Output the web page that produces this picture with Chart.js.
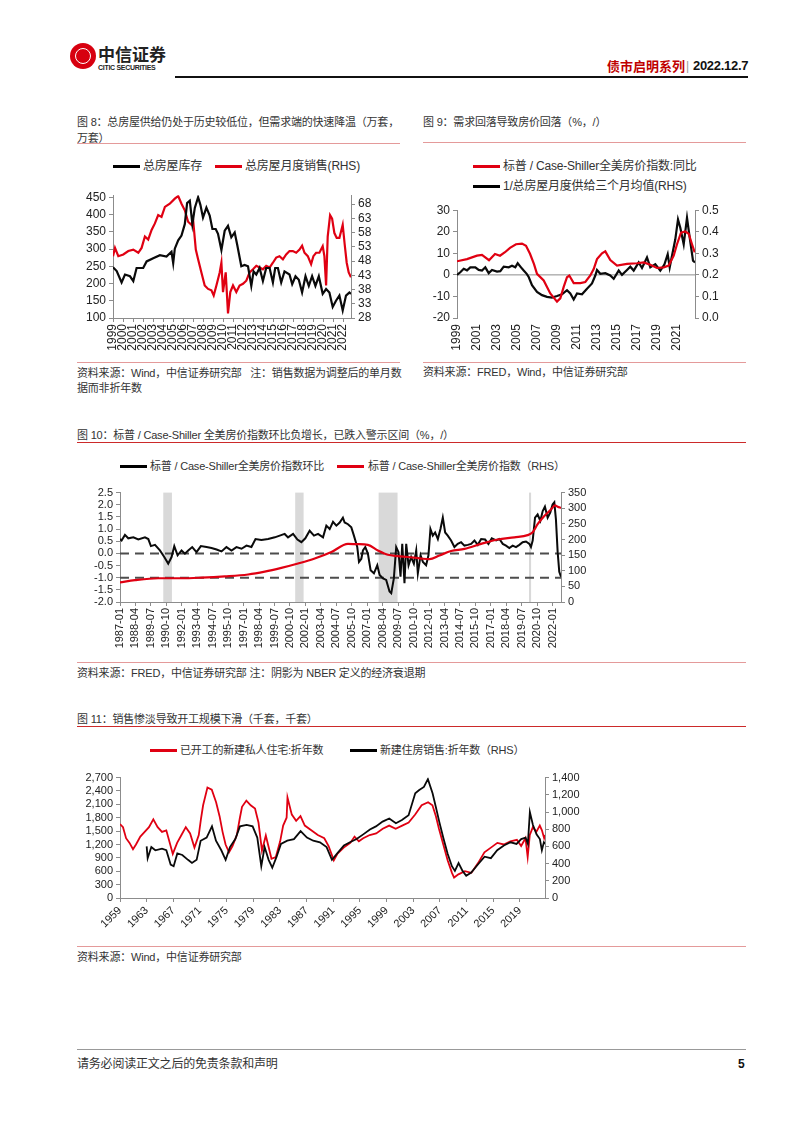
<!DOCTYPE html>
<html>
<head>
<meta charset="utf-8">
<script src="https://cdn.jsdelivr.net/npm/chart.js@4.4.0/dist/chart.umd.min.js"></script>
<style>
body{margin:0;background:#fff;width:802px;height:1133px;position:relative;overflow:hidden;font-family:"Liberation Sans","Noto Sans CJK SC",sans-serif;color:#333;}
.t{position:absolute;white-space:nowrap;line-height:16px;font-size:11px;letter-spacing:-0.2px;}
.ln{position:absolute;height:1px;}
.lg{position:absolute;height:3px;width:27px;}
canvas{position:absolute;}
</style>
</head>
<body>

<!-- header -->
<div style="position:absolute;left:70px;top:43px;width:26px;height:26px;border-radius:50%;background:#d7000f;"></div>
<div style="position:absolute;left:75px;top:48px;width:14px;height:14px;border-radius:50%;border:1px solid #fff;"></div>
<div class="t" style="left:98px;top:44px;font-size:17px;line-height:20px;font-weight:bold;color:#222;font-family:'Noto Sans CJK SC';letter-spacing:0;">中信证券</div>
<div class="t" style="left:98px;top:63px;font-size:7px;line-height:9px;font-weight:bold;color:#222;letter-spacing:-0.3px;">CITIC SECURITIES</div>
<div class="t" style="left:607px;top:58px;font-size:13px;font-weight:bold;color:#c00000;font-family:'Noto Sans CJK SC';letter-spacing:0;">债市启明系列</div>
<div class="t" style="left:686px;top:58px;font-size:12px;color:#999;">|</div>
<div class="t" style="left:693px;top:58px;font-size:13px;font-weight:bold;color:#111;letter-spacing:-0.3px;">2022.12.7</div>
<div class="ln" style="left:175px;top:76px;width:573px;height:2px;background:#111;"></div>

<!-- figure 8 -->
<div class="t" style="left:77px;top:114px;">图 8：总房屋供给仍处于历史较低位，但需求端的快速降温（万套，</div>
<div class="t" style="left:77px;top:130px;">万套）</div>
<div class="ln" style="left:77px;top:143px;width:323px;background:#e49a9a;"></div>
<div class="lg" style="left:113px;top:165px;background:#000;"></div>
<div class="t" style="left:143px;top:158px;font-size:12px;">总房屋库存</div>
<div class="lg" style="left:215px;top:165px;background:#e00012;"></div>
<div class="t" style="left:245px;top:158px;font-size:12px;">总房屋月度销售(RHS)</div>
<canvas id="c8" width="305" height="170" style="left:75px;top:185px;"></canvas>
<div class="ln" style="left:77px;top:362px;width:323px;background:#e49a9a;"></div>
<div class="t" style="left:77px;top:365px;">资料来源：Wind，中信证券研究部&nbsp;&nbsp;&nbsp;注：销售数据为调整后的单月数</div>
<div class="t" style="left:77px;top:380px;">据而非折年数</div>

<!-- figure 9 -->
<div class="t" style="left:423px;top:114px;">图 9：需求回落导致房价回落（%，/）</div>
<div class="ln" style="left:423px;top:142px;width:323px;background:#e49a9a;"></div>
<div class="lg" style="left:473px;top:165px;background:#e00012;"></div>
<div class="t" style="left:503px;top:158px;font-size:12px;">标普 / Case-Shiller全美房价指数:同比</div>
<div class="lg" style="left:473px;top:185px;background:#000;"></div>
<div class="t" style="left:503px;top:178px;font-size:12px;">1/总房屋月度供给三个月均值(RHS)</div>
<canvas id="c9" width="305" height="160" style="left:420px;top:200px;"></canvas>
<div class="ln" style="left:423px;top:362px;width:323px;background:#e49a9a;"></div>
<div class="t" style="left:423px;top:364px;">资料来源：FRED，Wind，中信证券研究部</div>

<!-- figure 10 -->
<div class="t" style="left:77px;top:427px;">图 10：标普 / Case-Shiller 全美房价指数环比负增长，已跌入警示区间（%，/）</div>
<div class="ln" style="left:77px;top:442px;width:669px;background:#cc2a2a;"></div>
<div class="lg" style="left:120px;top:465px;background:#000;"></div>
<div class="t" style="left:150px;top:458px;">标普 / Case-Shiller全美房价指数环比</div>
<div class="lg" style="left:337px;top:465px;background:#e00012;"></div>
<div class="t" style="left:368px;top:458px;">标普 / Case-Shiller全美房价指数（RHS）</div>
<canvas id="c10" width="506" height="175" style="left:85px;top:483px;"></canvas>
<div class="ln" style="left:77px;top:662px;width:669px;background:#e49a9a;"></div>
<div class="t" style="left:77px;top:665px;">资料来源：FRED，中信证券研究部 注：阴影为 NBER 定义的经济衰退期</div>

<!-- figure 11 -->
<div class="t" style="left:77px;top:711px;">图 11：销售惨淡导致开工规模下滑（千套，千套）</div>
<div class="ln" style="left:77px;top:726px;width:669px;background:#cc2a2a;"></div>
<div class="lg" style="left:150px;top:749px;background:#e00012;"></div>
<div class="t" style="left:180px;top:742px;">已开工的新建私人住宅:折年数</div>
<div class="lg" style="left:350px;top:749px;background:#000;"></div>
<div class="t" style="left:380px;top:742px;">新建住房销售:折年数（RHS）</div>
<canvas id="c11" width="510" height="170" style="left:78px;top:768px;"></canvas>
<div class="ln" style="left:77px;top:946px;width:669px;background:#e49a9a;"></div>
<div class="t" style="left:77px;top:949px;">资料来源：Wind，中信证券研究部</div>

<!-- footer -->
<div class="ln" style="left:77px;top:1049px;width:669px;background:#999;"></div>
<div class="t" style="left:77px;top:1056px;font-size:12px;">请务必阅读正文之后的免责条款和声明</div>
<div class="t" style="left:738px;top:1056px;font-size:12px;font-weight:bold;color:#111;">5</div>

<script>
// ---- figure 8: inventory (LHS, 万套) and monthly sales (RHS) ----
const invYears = [1999.0,1999.37,1999.86,2000.2,2000.7,2001.03,2001.36,2002.02,2002.36,2003.02,2003.69,2004.35,2004.85,2005.02,2005.18,2005.52,2005.85,2006.18,2006.41,2006.68,2006.94,2007.18,2007.51,2007.74,2008.0,2008.34,2008.67,2008.94,2009.27,2009.5,2009.84,2010.17,2010.5,2010.83,2011.17,2011.43,2011.83,2012.16,2012.5,2012.83,2013.06,2013.33,2013.66,2013.99,2014.32,2014.66,2014.99,2015.22,2015.49,2015.82,2016.15,2016.65,2016.92,2017.25,2017.58,2017.91,2018.25,2018.58,2018.91,2019.24,2019.58,2019.97,2020.31,2020.64,2020.97,2021.3,2021.64,2021.97,2022.3,2022.64,2022.8];
const invValues = [247,236,203,226,221,207,245,245,264,273,282,278,292,259,301,325,339,372,433,440,372,419,450,428,391,420,397,358,358,344,297,353,367,334,348,311,250,254,250,193,235,226,245,207,245,245,203,245,245,203,235,226,198,221,211,174,221,193,221,193,221,170,184,174,132,150,165,122,165,174,170];
const salesYears = [1999.0,1999.2,1999.53,2000.03,2000.53,2001.03,2001.53,2001.86,2002.19,2002.52,2002.86,2003.19,2003.52,2003.85,2004.19,2004.68,2005.18,2005.52,2005.85,2006.18,2006.51,2006.84,2007.01,2007.28,2007.51,2007.84,2008.17,2008.51,2008.84,2009.07,2009.34,2009.67,2009.84,2010.0,2010.27,2010.5,2010.73,2011.0,2011.33,2011.66,2012.0,2012.33,2012.66,2013.0,2013.33,2013.66,2013.99,2014.32,2014.66,2014.99,2015.32,2015.65,2015.99,2016.32,2016.65,2016.98,2017.32,2017.65,2017.91,2018.15,2018.48,2018.81,2019.04,2019.31,2019.64,2019.97,2020.14,2020.31,2020.47,2020.71,2020.91,2021.14,2021.37,2021.64,2021.97,2022.17,2022.37,2022.57,2022.8];
const salesValues = [49.7,52.6,49.7,50.3,51.5,52,50.9,52.6,56.6,55.5,58.9,61.2,64.1,63.5,67,68.1,69.9,70.8,68.1,65.8,61.8,60.7,62.4,52,48.6,44,39.4,38.2,37.7,35.9,39.4,44,47.4,37.1,44,29.6,37.1,39.4,37.1,39.4,40,41.1,44,45.1,46.3,45.7,45.1,46.3,45.7,47.4,49.2,49.7,48.6,50.3,51.5,51.5,50.9,52,53.4,50.9,49.7,46.9,49.7,50.9,50.9,53.2,49.7,39.4,56.6,64.1,62.9,57.8,56.1,56.1,60.7,53.8,47.4,44,42.3];
const fig8LeftTicks = [100,150,200,250,300,350,400,450];
const fig8RightTicks = [28,33,38,43,48,53,58,63,68];
const fig8YearTicks = [1999,2000,2001,2002,2003,2004,2005,2006,2007,2008,2009,2010,2011,2012,2013,2014,2015,2016,2017,2018,2019,2020,2021,2022];

// ---- figure 9: Case-Shiller YoY (LHS) and 1/supply 3m avg (RHS) ----
const yoyYears = [1999.0,2000.0,2001.0,2001.5,2002.2,2002.8,2003.3,2003.8,2004.3,2004.9,2005.5,2005.9,2006.3,2006.7,2007.0,2007.67,2008.33,2009.0,2009.33,2009.67,2010.0,2010.23,2010.67,2011.33,2011.83,2012.33,2012.67,2013.0,2013.5,2013.83,2014.33,2015.0,2016.0,2017.0,2017.67,2018.33,2019.0,2019.67,2020.17,2020.67,2021.0,2021.4,2021.83,2022.17,2022.5,2022.77];
const yoyValues = [6.3,7.3,8.9,9.3,6.8,9.7,8.9,10.5,12.5,14.2,14.5,13.5,9.8,5.0,0.5,-2.6,-8.6,-12.4,-10.9,-5.6,-1.1,-0.3,-3.8,-3.8,-3.3,-0.3,2.7,7.3,10.0,10.9,6.9,4.3,5.1,5.4,5.8,4.7,3.2,3.5,4.3,8.9,14.2,19.6,20.1,19.1,14.2,10.4];
const supplyYears = [1999.0,1999.33,1999.67,2000.0,2000.33,2000.83,2001.17,2001.5,2001.83,2002.17,2002.5,2003.0,2003.33,2003.67,2004.17,2004.5,2004.83,2005.07,2005.4,2005.67,2005.97,2006.17,2006.5,2007.0,2007.5,2008.0,2008.5,2009.0,2009.5,2010.0,2010.33,2010.67,2011.0,2011.5,2012.0,2012.5,2012.83,2013.0,2013.33,2013.83,2014.33,2014.67,2015.17,2015.5,2016.0,2016.33,2016.67,2017.17,2017.5,2018.0,2018.33,2018.83,2019.33,2019.73,2020.07,2020.27,2020.83,2021.1,2021.33,2021.67,2022.0,2022.27,2022.6,2022.8];
const supplyValues = [0.200,0.212,0.228,0.221,0.235,0.235,0.223,0.220,0.235,0.208,0.223,0.215,0.217,0.238,0.235,0.242,0.235,0.254,0.235,0.220,0.205,0.190,0.152,0.121,0.106,0.098,0.095,0.102,0.110,0.129,0.114,0.086,0.114,0.110,0.136,0.160,0.197,0.223,0.205,0.208,0.197,0.182,0.220,0.200,0.223,0.238,0.220,0.258,0.232,0.281,0.235,0.250,0.220,0.247,0.296,0.235,0.365,0.457,0.419,0.342,0.465,0.373,0.266,0.258];
const fig9LeftTicks = [-20,-10,0,10,20,30];
const fig9RightTicks = [0,0.1,0.2,0.3,0.4,0.5];
const fig9YearTicks = [1999,2001,2003,2005,2007,2009,2011,2013,2015,2017,2019,2021];

// ---- figure 10: Case-Shiller MoM (LHS, %) and index level (RHS) ----
const momYears = [1987.0,1987.13,1987.4,1987.67,1988.08,1988.48,1989.02,1989.29,1989.5,1989.83,1990.23,1990.58,1990.9,1991.17,1991.39,1991.66,1991.98,1992.25,1992.52,1992.84,1993.19,1993.54,1994.0,1994.4,1994.81,1995.21,1995.61,1996.02,1996.42,1996.83,1997.23,1997.63,1997.96,1998.44,1998.98,1999.52,1999.92,2000.32,2000.59,2001.0,2001.35,2001.67,2001.99,2002.34,2002.69,2003.02,2003.42,2003.69,2003.96,2004.23,2004.5,2004.77,2005.03,2005.17,2005.44,2005.71,2005.92,2006.19,2006.33,2006.52,2006.65,2006.84,2007.05,2007.27,2007.54,2007.81,2008.0,2008.27,2008.53,2008.8,2008.94,2009.15,2009.34,2009.53,2009.69,2009.83,2010.01,2010.15,2010.34,2010.55,2010.77,2010.96,2011.09,2011.31,2011.5,2011.76,2011.95,2012.11,2012.3,2012.49,2012.71,2012.92,2013.11,2013.3,2013.51,2013.78,2014.05,2014.32,2014.59,2014.86,2015.13,2015.4,2015.67,2015.94,2016.21,2016.53,2016.8,2017.07,2017.42,2017.69,2017.96,2018.22,2018.49,2018.76,2019.03,2019.3,2019.57,2019.84,2020.11,2020.24,2020.38,2020.57,2020.78,2021.0,2021.19,2021.37,2021.59,2021.8,2021.99,2022.13,2022.26,2022.4,2022.53,2022.67];
const momValues = [0.59,0.53,0.76,0.62,0.66,0.57,0.66,0.59,0.30,0.35,0.12,-0.15,-0.42,-0.15,0.30,-0.08,0.12,-0.01,0.12,0.26,0.05,0.30,0.26,0.22,0.16,0.08,0.26,0.12,0.26,0.19,0.32,0.26,0.59,0.55,0.59,0.66,0.73,0.80,0.66,0.80,0.57,0.46,0.62,0.93,0.73,0.80,0.66,1.14,1.00,1.30,1.14,1.27,1.47,1.27,1.20,1.07,0.73,0.26,-0.35,-0.22,0.12,0.26,-0.01,-0.69,-0.82,-0.49,-0.89,-1.03,-1.09,-1.57,-1.64,-1.03,0.26,0.05,-0.96,0.39,-1.23,0.39,-0.49,-0.15,-0.42,0.12,-0.82,-0.08,-0.35,-0.49,-0.08,1.00,0.73,0.86,0.59,1.00,1.47,0.86,0.73,0.53,0.26,0.39,0.46,0.32,0.35,0.39,0.53,0.35,0.59,0.57,0.39,0.62,0.53,0.59,0.39,0.32,0.22,0.32,0.26,0.35,0.46,0.49,0.39,0.26,0.53,1.47,1.60,1.34,1.74,1.92,1.47,1.68,2.01,2.10,1.40,0.05,-0.76,-0.96];
const hpiYears = [1987.0,1988.21,1990.09,1991.98,1993.6,1995.48,1997.36,1998.71,2000.05,2001.4,2002.75,2004.1,2005.44,2006.19,2007.05,2007.86,2008.67,2009.48,2010.28,2011.36,2012.03,2012.84,2013.78,2014.86,2016.21,2017.55,2018.9,2019.97,2020.38,2020.78,2021.32,2021.86,2022.18,2022.4,2022.67];
const hpiValues = [63,70,76,76,78,82,88,97,109,123,139,160,186,185,183,165,151,147,144,139,137,149,163,170,186,200,207,214,223,249,275,296,309,305,301];
const recessionStart = [1990.5,2001.17,2007.92,2020.08];
const recessionEnd = [1991.2,2001.85,2009.45,2020.25];
const warnLevels = [0,-1];
const fig10LeftTicks = [-2,-1.5,-1,-0.5,0,0.5,1,1.5,2,2.5];
const fig10RightTicks = [0,50,100,150,200,250,300,350];
const fig10DateTicks = [1987,1988.25,1989.5,1990.75,1992,1993.25,1994.5,1995.75,1997,1998.25,1999.5,2000.75,2002,2003.25,2004.5,2005.75,2007,2008.25,2009.5,2010.75,2012,2013.25,2014.5,2015.75,2017,2018.25,2019.5,2020.75,2022];

// ---- figure 11: housing starts (LHS) and new home sales (RHS), 千套 ----
const startsYears = [1959.0,1959.45,1959.91,1960.43,1960.95,1961.4,1962.05,1962.7,1963.35,1964.0,1964.65,1965.3,1965.95,1966.4,1966.92,1967.57,1968.22,1968.87,1969.52,1970.17,1970.82,1971.14,1971.47,1972.12,1972.77,1973.42,1973.94,1974.39,1974.84,1975.36,1975.88,1976.53,1976.99,1977.31,1977.96,1978.61,1979.26,1979.78,1980.3,1980.88,1981.73,1982.38,1983.03,1983.48,1984.0,1984.13,1984.78,1985.43,1986.08,1986.73,1987.7,1988.68,1989.65,1990.3,1991.08,1991.6,1992.57,1993.55,1994.19,1994.84,1995.49,1996.47,1997.44,1998.42,1999.39,2000.36,2001.34,2002.31,2003.29,2004.26,2005.23,2005.88,2006.4,2006.86,2007.51,2008.16,2008.81,2009.13,2009.78,2010.75,2011.73,2012.7,2013.68,2014.65,2015.62,2016.6,2017.57,2018.55,2019.19,2019.84,2020.17,2020.49,2020.95,2021.47,2021.99,2022.31,2022.64,2022.77];
const startsValues = [1659,1589,1341,1236,1094,1200,1377,1483,1589,1765,1589,1483,1518,1271,988,1236,1412,1589,1447,1130,1412,1765,2079,2477,2428,2149,1835,1483,1200,1024,1165,1412,1800,2044,2184,2079,2009,1694,1060,1400,880,920,1271,1624,1800,2254,1870,1730,1836,1624,1518,1412,1341,1165,847,988,1130,1236,1377,1271,1341,1412,1447,1553,1624,1553,1624,1694,1871,2079,2149,2079,1835,1553,1200,847,565,459,530,600,565,777,1024,1130,1236,1200,1271,1306,1165,1341,918,1412,1589,1483,1624,1518,1341,1412];
const newSalesYears = [1963.0,1963.15,1963.7,1964.3,1965.3,1965.95,1966.6,1967.05,1967.6,1968.35,1969.2,1969.8,1970.5,1971.1,1972.0,1972.8,1973.4,1974.2,1974.85,1975.5,1976.3,1977.0,1978.0,1978.9,1979.6,1980.2,1980.7,1981.3,1981.85,1982.5,1983.15,1984.1,1985.1,1986.1,1987.05,1988.0,1989.0,1990.0,1990.8,1991.6,1992.6,1993.5,1994.5,1995.5,1996.5,1997.4,1998.4,1999.4,2000.4,2001.3,2002.3,2003.3,2003.9,2004.6,2005.2,2005.9,2006.4,2006.9,2007.5,2008.15,2008.8,2009.25,2009.8,2010.4,2010.95,2011.7,2012.7,2013.7,2014.65,2015.6,2016.6,2017.6,2018.5,2019.2,2019.85,2020.2,2020.5,2020.95,2021.5,2022.0,2022.3,2022.6,2022.77];
const newSalesValues = [600,463,592,555,574,555,389,370,518,500,444,407,444,666,703,833,666,555,444,592,685,833,851,833,703,370,592,444,352,481,629,666,685,777,703,666,648,592,444,518,611,648,685,740,796,833,888,925,870,907,962,1218,1255,1291,1382,1218,1055,888,703,518,370,315,407,315,259,296,389,481,463,555,611,648,629,685,703,629,999,851,740,685,555,648,629];
const fig11LeftTicks = [0,300,600,900,1200,1500,1800,2100,2400,2700];
const fig11RightTicks = [0,200,400,600,800,1000,1200,1400];
const fig11YearTicks = [1959,1963,1967,1971,1975,1979,1983,1987,1991,1995,1999,2003,2007,2011,2015,2019];

const RED = '#e00012';
const BLACK = '#0a0a0a';
const AXIS = '#8c8c8c';
const NUM_FONT = "'Liberation Sans', Arial, sans-serif";
const NARROW_FONT = "'Liberation Sans Narrow', 'Arial Narrow', 'Liberation Sans', Arial, sans-serif";

Chart.defaults.animation = false;
Chart.defaults.color = '#222';

/**
 * zip two arrays into {x, y} points
 */
function toPoints(xs, ys) {
    return xs.map((x, i) => ({ x: x, y: ys[i] }));
}

/**
 * a line dataset without point markers
 */
function lineSet(xs, ys, color, axis, width) {
    return {
        data: toPoints(xs, ys),
        yAxisID: axis,
        borderColor: color,
        borderWidth: width || 2,
        pointRadius: 0,
        tension: 0,
        fill: false
    };
}

/**
 * value axis with fixed ticks and fixed width
 */
function valueAxis(position, min, max, tickList, fmt, width, font) {
    return {
        type: 'linear',
        position: position,
        min: min,
        max: max,
        afterBuildTicks: (scale) => { scale.ticks = tickList.map(v => ({ value: v })); },
        afterFit: (scale) => { scale.width = width; },
        border: { color: AXIS, width: 1 },
        grid: { drawOnChartArea: false, drawTicks: true, tickLength: 4, color: AXIS },
        ticks: { callback: fmt, font: font, padding: 3, color: '#222', autoSkip: false }
    };
}

/**
 * time axis in decimal years
 */
function yearAxis(min, max, tickList, fmt, height, rotation, font, showBorder) {
    return {
        type: 'linear',
        min: min,
        max: max,
        afterBuildTicks: (scale) => { scale.ticks = tickList.map(v => ({ value: v })); },
        afterFit: (scale) => { scale.height = height; },
        border: { display: showBorder, color: AXIS, width: 1 },
        grid: { display: showBorder, drawOnChartArea: false, tickLength: 4, color: AXIS },
        ticks: { callback: fmt, autoSkip: false, minRotation: rotation, maxRotation: rotation, font: font, padding: 2, color: '#222' }
    };
}

function baseOptions(paddingTop, scales) {
    return {
        responsive: false,
        devicePixelRatio: 1,
        layout: { padding: { top: paddingTop, left: 0, right: 0, bottom: 0 } },
        plugins: { legend: { display: false }, tooltip: { enabled: false } },
        scales: scales
    };
}

// shaded NBER recessions behind the lines
const recessionShade = {
    id: 'recessionShade',
    beforeDatasetsDraw(chart) {
        const { ctx, chartArea, scales } = chart;
        ctx.save();
        ctx.fillStyle = '#d9d9d9';
        recessionStart.forEach((s, i) => {
            const x0 = scales.x.getPixelForValue(s);
            const x1 = scales.x.getPixelForValue(recessionEnd[i]);
            ctx.fillRect(x0, chartArea.top, x1 - x0, chartArea.bottom - chartArea.top);
        });
        ctx.restore();
    }
};

const intLabel = (v) => String(v);
const fontBig = { family: NUM_FONT, size: 12 };
const fontNarrow = { family: NARROW_FONT, size: 11 };

// figure 8
new Chart(document.getElementById('c8'), {
    type: 'line',
    data: { datasets: [
        lineSet(invYears, invValues, BLACK, 'y', 2.2),
        lineSet(salesYears, salesValues, RED, 'y1', 2.2)
    ] },
    options: baseOptions(8, {
        x: yearAxis(1999, 2022.8, fig8YearTicks, intLabel, 37, 90, fontBig, true),
        y: valueAxis('left', 100, 456, fig8LeftTicks, intLabel, 38, fontBig),
        y1: valueAxis('right', 28, 71.1, fig8RightTicks, intLabel, 29, fontBig)
    })
});

// figure 9
const fig9Zero = lineSet([1999, 2022.8], [0, 0], AXIS, 'y', 1);
new Chart(document.getElementById('c9'), {
    type: 'line',
    data: { datasets: [
        lineSet(yoyYears, yoyValues, RED, 'y', 2.2),
        lineSet(supplyYears, supplyValues, BLACK, 'y1', 2.2),
        fig9Zero
    ] },
    options: baseOptions(9, {
        x: yearAxis(1999, 2022.8, fig9YearTicks, intLabel, 42, 90, fontBig, false),
        y: valueAxis('left', -20, 30, fig9LeftTicks, intLabel, 37, fontBig),
        y1: valueAxis('right', 0, 0.5, fig9RightTicks, (v) => v.toFixed(1), 30, fontBig)
    })
});

// figure 10
const dashSets = warnLevels.map(level => Object.assign(
    lineSet([1987, 2022.67], [level, level], '#4d4d4d', 'y', 2),
    { borderDash: [9, 6] }
));
const hpiSet = Object.assign(lineSet(hpiYears, hpiValues, RED, 'y1', 2.2), { cubicInterpolationMode: 'monotone' });
new Chart(document.getElementById('c10'), {
    type: 'line',
    data: { datasets: [hpiSet, lineSet(momYears, momValues, BLACK, 'y', 2)].concat(dashSets) },
    options: baseOptions(8, {
        x: yearAxis(1987, 2022.67, fig10DateTicks, (v) => {
            const yr = Math.floor(v + 1e-6);
            const mo = Math.round((v - yr) * 12) + 1;
            return yr + '-' + String(mo).padStart(2, '0');
        }, 56, 90, fontNarrow, true),
        y: valueAxis('left', -2, 2.5, fig10LeftTicks, (v) => v.toFixed(1), 35, fontNarrow),
        y1: valueAxis('right', 0, 350, fig10RightTicks, intLabel, 30, fontNarrow)
    }),
    plugins: [recessionShade]
});

// figure 11
const commaLabel = (v) => v.toLocaleString('en-US');
new Chart(document.getElementById('c11'), {
    type: 'line',
    data: { datasets: [
        lineSet(newSalesYears, newSalesValues, BLACK, 'y1', 1.8),
        lineSet(startsYears, startsValues, RED, 'y', 1.8)
    ] },
    options: baseOptions(8, {
        x: yearAxis(1959, 2022.77, fig11YearTicks, intLabel, 40, 45, fontNarrow, true),
        y: valueAxis('left', 0, 2700, fig11LeftTicks, commaLabel, 42, fontNarrow),
        y1: valueAxis('right', 0, 1400, fig11RightTicks, commaLabel, 43, fontNarrow)
    })
});
</script>
</body>
</html>
